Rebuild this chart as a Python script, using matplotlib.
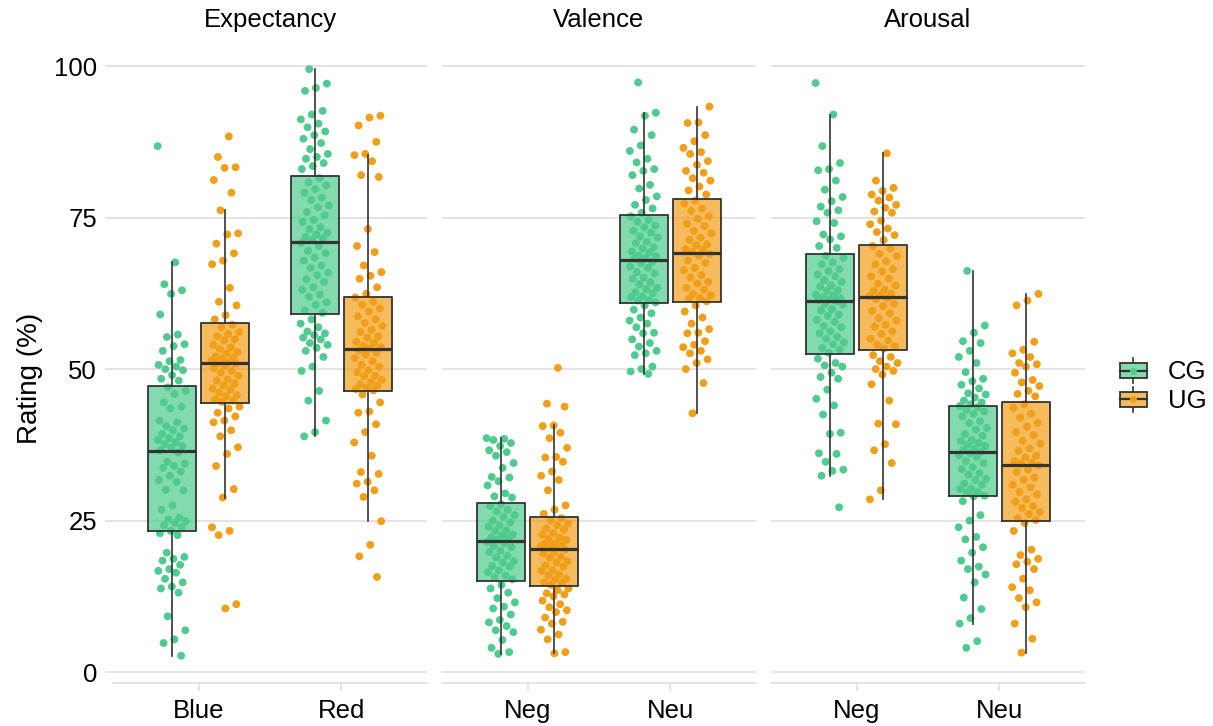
import numpy as np
import matplotlib
matplotlib.use('Agg')
import matplotlib.pyplot as plt
from matplotlib.legend_handler import HandlerBase
from matplotlib.patches import Rectangle
from matplotlib.lines import Line2D

plt.rcParams['font.family'] = ['Liberation Sans', 'DejaVu Sans']

# ---- data (rating %) ----
panels = ['Expectancy', 'Valence', 'Arousal']
conditions = [['Blue', 'Red'], ['Neg', 'Neu'], ['Neg', 'Neu']]
groups = ['CG', 'UG']

exp_blue_cg = [86.8, 67.6, 64.0, 63.0, 62.4, 59.0, 55.7, 55.3, 54.1, 53.8, 53.0, 51.5, 51.3, 50.7,
               50.4, 50.0, 49.8, 49.0, 48.4, 48.1, 47.0, 46.4, 45.9, 44.5, 43.8, 43.5, 41.5,
               41.2, 40.6, 40.2, 39.9, 39.3, 38.9, 38.6, 38.3, 37.9, 37.6, 37.3, 37.0, 36.6, 36.2,
               34.7, 34.4, 34.0, 33.7, 33.1, 32.4, 31.7, 31.4, 30.1, 30.0, 27.5, 26.8, 25.5, 25.2,
               24.9, 24.6, 24.2, 23.9, 23.3, 22.9, 22.6, 19.7, 19.0, 18.7, 18.4, 17.7, 17.0, 16.7,
               16.4, 15.4, 14.8, 14.1, 13.8, 13.1, 9.2, 6.9, 5.4, 4.8, 2.7]
exp_blue_ug = [88.4, 85.0, 83.3, 83.2, 81.2, 79.1, 76.2, 72.4, 72.2, 70.7, 69.1, 67.9, 67.3, 63.4,
               61.1, 60.5, 58.9, 58.2, 57.3, 56.9, 56.1, 55.8, 55.4, 54.9, 54.7, 54.0, 53.6, 53.3,
               52.8, 52.6, 52.1, 51.9, 51.7, 51.4, 51.2, 51.1, 50.9, 50.5, 50.2, 49.7, 49.4, 48.9,
               48.3, 48.1, 47.6, 47.3, 46.8, 46.6, 46.1, 45.7, 45.5, 45.0, 44.8, 44.6, 43.8, 43.5,
               42.8, 42.2, 41.5, 41.2, 39.9, 38.9, 37.1, 36.0, 34.0, 30.2, 28.8, 23.9, 23.3, 22.6,
               11.2, 10.5]
exp_red_cg = [99.5, 97.1, 96.4, 95.9, 92.6, 92.0, 91.2, 90.5, 89.9, 89.2, 88.6, 88.0, 87.3, 86.3,
              85.5, 85.0, 84.7, 84.0, 83.5, 83.0, 81.5, 80.8, 80.3, 79.7, 79.1, 78.3, 77.9, 77.0,
              76.7, 75.9, 75.4, 74.6, 74.3, 73.4, 73.1, 72.5, 72.2, 71.8, 71.6, 71.3, 70.8, 70.3,
              69.5, 69.1, 68.4, 67.9, 67.1, 66.7, 65.9, 65.5, 64.8, 64.4, 63.5, 63.1, 62.3, 61.9,
              61.0, 60.6, 59.7, 59.3, 58.2, 57.5, 56.9, 56.2, 55.9, 55.6, 55.2, 54.9, 54.3, 54.0,
              53.5, 53.0, 52.0, 50.4, 49.7, 46.4, 44.8, 41.5, 39.6, 38.9]
exp_red_ug = [91.8, 91.5, 90.2, 87.5, 85.5, 85.3, 84.3, 82.0, 81.7, 73.1, 70.3, 69.3, 67.1, 66.0,
              65.4, 64.9, 63.5, 62.4, 61.8, 61.1, 60.6, 60.0, 59.5, 58.7, 58.2, 57.6, 57.1, 56.5,
              56.1, 55.4, 55.2, 54.5, 54.3, 53.8, 53.6, 53.4, 53.1, 52.7, 52.4, 51.8, 51.3, 50.7,
              50.4, 49.8, 49.5, 48.9, 48.8, 48.2, 47.9, 47.5, 47.3, 46.9, 46.7, 46.5, 45.8, 44.5,
              43.0, 42.8, 40.9, 39.6, 37.9, 35.7, 33.0, 32.7, 31.4, 31.1, 30.0, 28.9, 24.9, 21.0,
              19.1, 15.7]

val_neg_cg = [38.6, 38.5, 38.3, 37.8, 37.3, 36.6, 36.3, 35.7, 34.5, 33.7, 32.2, 32.1, 31.5, 30.8,
              29.5, 29.0, 28.8, 27.7, 27.4, 26.8, 26.5, 25.9, 25.6, 25.0, 24.7, 24.2, 24.0, 23.4,
              23.3, 22.7, 22.6, 22.2, 22.1, 21.9, 21.5, 21.3, 20.8, 20.6, 20.0, 19.8, 19.2, 18.9,
              18.3, 18.1, 17.5, 17.4, 16.8, 16.5, 15.9, 15.7, 15.3, 14.4, 13.8, 13.1, 12.2, 11.5,
              10.8, 10.5, 9.5, 8.6, 8.2, 7.6, 6.9, 6.6, 5.3, 4.0, 3.3, 3.0]
val_neg_ug = [50.2, 44.3, 43.8, 40.7, 40.6, 39.5, 38.6, 37.0, 35.5, 35.4, 34.7, 33.1, 32.4, 31.7,
              30.0, 27.5, 26.8, 26.1, 25.4, 25.1, 24.5, 24.2, 23.7, 23.5, 22.9, 22.7, 22.2, 22.0,
              21.8, 21.3, 21.2, 20.9, 20.8, 20.7, 20.6, 20.5, 20.2, 19.8, 19.6, 19.0, 18.9, 18.3,
              18.1, 17.6, 17.4, 16.8, 16.7, 16.1, 16.0, 15.4, 15.3, 14.8, 14.7, 14.4, 13.8, 13.5,
              13.0, 12.8, 12.5, 11.8, 11.2, 10.7, 10.2, 9.9, 9.0, 8.3, 8.0, 7.0, 6.2, 5.4, 3.3, 3.1]
val_neu_cg = [97.3, 92.3, 91.8, 89.5, 88.6, 86.9, 86.0, 84.7, 84.1, 83.0, 82.7, 82.0, 80.4, 79.8,
              78.5, 77.9, 77.1, 76.5, 75.8, 75.2, 74.6, 74.3, 73.7, 73.4, 72.8, 72.5, 71.9, 71.7,
              71.0, 70.8, 70.1, 69.9, 69.4, 69.2, 68.7, 68.6, 68.3, 68.2, 67.7, 67.5, 66.9, 66.7,
              66.0, 65.8, 65.1, 64.9, 64.3, 64.0, 63.4, 63.2, 62.7, 62.5, 62.0, 61.9, 61.4, 61.3,
              61.0, 60.5, 59.8, 59.2, 58.5, 58.0, 57.5, 56.9, 56.0, 55.9, 54.9, 54.3, 53.7, 53.0,
              52.6, 52.3, 50.4, 50.0, 49.6, 49.2]
val_neu_ug = [93.3, 90.7, 90.6, 88.6, 87.6, 86.5, 85.8, 85.5, 84.3, 83.7, 82.7, 82.4, 81.5, 81.1,
              80.1, 79.5, 78.8, 77.8, 77.3, 76.5, 76.1, 75.2, 74.8, 74.0, 73.6, 72.8, 72.4, 71.7,
              71.3, 70.6, 70.4, 69.8, 69.7, 69.4, 69.0, 68.7, 67.9, 67.5, 66.7, 66.3, 65.5, 65.1,
              64.4, 64.1, 63.4, 63.1, 62.4, 62.2, 61.7, 61.6, 61.2, 60.5, 59.5, 58.5, 57.5, 56.6,
              56.0, 55.9, 54.6, 54.0, 53.6, 53.0, 52.6, 51.6, 51.0, 50.0, 47.7, 42.7]

aro_neg_cg = [97.2, 92.0, 86.8, 84.0, 83.0, 82.8, 81.1, 79.6, 78.4, 77.7, 76.8, 76.2, 75.8, 74.4,
              74.1, 72.2, 71.9, 71.4, 70.3, 70.0, 68.7, 68.4, 67.6, 67.3, 66.5, 66.2, 65.6, 65.3,
              64.7, 64.4, 63.8, 63.6, 63.0, 62.9, 62.3, 62.2, 61.8, 61.7, 61.5, 61.4, 61.2, 60.8,
              60.6, 59.9, 59.7, 59.0, 58.8, 58.1, 57.8, 57.1, 56.9, 56.2, 55.9, 55.3, 55.0, 54.4,
              54.1, 53.5, 53.2, 52.7, 51.7, 51.0, 50.6, 50.4, 49.4, 48.7, 48.4, 46.6, 45.1, 44.0,
              42.5, 39.5, 39.3, 36.1, 36.0, 34.7, 33.4, 33.2, 32.4, 27.2]
aro_neg_ug = [85.6, 81.1, 79.9, 79.4, 78.8, 78.3, 77.8, 77.1, 76.6, 76.0, 75.8, 74.5, 73.9, 73.2,
              72.6, 72.1, 71.3, 70.3, 69.9, 69.0, 68.6, 67.8, 67.3, 66.5, 66.1, 65.3, 64.9, 64.1,
              63.8, 63.1, 62.9, 62.4, 62.2, 62.0, 61.7, 61.5, 60.8, 60.4, 59.6, 59.2, 58.4, 58.0,
              57.3, 57.0, 56.2, 55.8, 55.0, 54.7, 54.0, 53.8, 53.4, 52.3, 52.0, 51.3, 51.0, 50.4,
              50.0, 49.7, 49.1, 47.5, 44.8, 41.0, 40.9, 37.6, 36.6, 34.5, 30.0, 28.5]
aro_neu_cg = [66.2, 57.2, 56.0, 54.6, 54.3, 53.0, 52.0, 51.0, 49.5, 48.4, 48.0, 47.4, 46.8, 46.0,
              45.8, 45.3, 44.8, 44.5, 44.2, 43.9, 43.7, 43.3, 43.0, 42.6, 42.2, 41.4, 41.1, 40.3,
              40.0, 39.3, 39.0, 38.3, 38.1, 37.8, 37.5, 37.3, 36.8, 36.6, 36.3, 36.1, 35.7, 35.5,
              34.8, 34.5, 33.8, 33.5, 32.8, 32.6, 31.9, 31.7, 31.1, 30.9, 30.3, 30.2, 29.7, 29.6,
              29.1, 29.0, 28.2, 25.9, 25.0, 23.9, 22.3, 21.9, 20.6, 19.7, 18.4, 17.4, 17.0, 16.1,
              14.8, 12.3, 10.4, 8.9, 8.0, 5.1, 4.0]
aro_neu_ug = [62.4, 61.3, 60.5, 54.5, 53.2, 52.6, 52.0, 51.0, 50.8, 50.4, 49.4, 48.2, 47.8, 47.2,
              46.4, 45.9, 45.5, 44.2, 43.6, 42.6, 42.0, 41.1, 40.5, 39.6, 39.1, 38.2, 37.7, 36.9,
              36.5, 35.7, 35.4, 34.8, 34.6, 34.4, 34.1, 33.4, 33.0, 32.1, 31.7, 30.9, 30.5, 29.7,
              29.3, 28.5, 28.1, 27.4, 27.1, 26.4, 26.1, 25.4, 25.1, 24.6, 23.3, 20.2, 19.3, 18.7,
              18.2, 17.8, 17.0, 15.4, 14.0, 13.5, 12.2, 11.5, 10.7, 8.0, 5.5, 3.2]

data = [
    [[exp_blue_cg, exp_blue_ug], [exp_red_cg, exp_red_ug]],
    [[val_neg_cg, val_neg_ug], [val_neu_cg, val_neu_ug]],
    [[aro_neg_cg, aro_neg_ug], [aro_neu_cg, aro_neu_ug]],
]

colors = ['#4ECB8D', '#F19E18']
edge = '#333333'
grid_col = '#DCDCDC'
FS = 18.5

W, H = 1213, 726
fig = plt.figure(figsize=(W / 100, H / 100), dpi=100)


def rect(l, t, w, h):
    return [l / W, 1 - (t + h) / H, w / W, h / H]


panel_left = [113, 442, 771]
panel_w = 314
top, bottom = 40, 683

dodge = 0.1875
box_w = 0.3375

for p in range(3):
    ax = fig.add_axes(rect(panel_left[p], top, panel_w, bottom - top))
    for ci in range(2):
        for gi in range(2):
            vals = np.array(data[p][ci][gi])
            pos = ci + 1 + (-dodge if gi == 0 else dodge)
            n = len(vals)
            # deterministic jitter spread
            jit = ((np.arange(n) * 0.618034 + 0.31 * (ci + 2 * gi)) % 1 - 0.5) * 0.2
            bp = ax.boxplot(vals, positions=[pos], widths=box_w, patch_artist=True,
                            showfliers=False, showcaps=False, manage_ticks=False,
                            boxprops=dict(facecolor=colors[gi], alpha=0.7, linewidth=0),
                            whiskerprops=dict(color=edge, linewidth=1.2),
                            medianprops=dict(color=edge, linewidth=2.3))
            for b in bp['boxes']:
                b.set_zorder(2)
                path = b.get_path().vertices
                ax.plot(path[:, 0], path[:, 1], color=edge, lw=1.3, zorder=4)
            for w_ in bp['whiskers']:
                w_.set_zorder(4)
            for m in bp['medians']:
                m.set_zorder(5)
            ax.scatter(pos + jit, vals, s=32, color=colors[gi], edgecolors='none', zorder=3)

    ax.set_xlim(0.4, 2.6)
    ax.set_ylim(-1.8, 104.3)
    ax.set_yticks([0, 25, 50, 75, 100])
    ax.set_xticks([1, 2])
    ax.set_xticklabels(conditions[p], fontsize=FS)
    ax.yaxis.grid(True, color=grid_col, linewidth=1.1)
    ax.set_axisbelow(True)
    for s in ['top', 'right', 'left']:
        ax.spines[s].set_visible(False)
    ax.spines['bottom'].set_color(grid_col)
    ax.spines['bottom'].set_linewidth(1.1)
    ax.tick_params(axis='x', colors=grid_col, length=6, width=1.1, pad=5.5,
                   labelcolor='black', labelsize=FS)
    if p == 0:
        ax.set_yticklabels(['0', '25', '50', '75', '100'])
        ax.tick_params(axis='y', colors=grid_col, length=6, width=1.1, pad=5.5,
                       labelcolor='black', labelsize=FS)
    else:
        ax.tick_params(axis='y', length=0, labelleft=False)
    fig.text((panel_left[p] + panel_w / 2) / W, 1 - 20 / H, panels[p],
             ha='center', va='center', fontsize=FS)

fig.text(30 / W, 1 - 378 / H, 'Rating (%)', rotation=90, ha='center', va='center',
         fontsize=FS + 1.5)


class BoxKey(HandlerBase):
    def create_artists(self, legend, orig, xd, yd, width, height, fontsize, trans):
        col = orig.get_facecolor()
        cx = -xd + width / 2
        cy = -yd + height / 2
        bh = height * 0.5
        arts = [
            Line2D([cx, cx], [-yd + height * 0.08, -yd + height * 0.92], color=edge, lw=1.2),
            Rectangle((-xd, cy - bh / 2), width, bh, facecolor='white', edgecolor='none'),
            Rectangle((-xd, cy - bh / 2), width, bh, facecolor=col, edgecolor=edge, lw=1.3),
            Line2D([-xd, -xd + width], [cy, cy], color=edge, lw=1.6),
            Line2D([cx], [cy], marker='o', ms=5, color=orig.get_edgecolor(), mec='none'),
        ]
        for a in arts:
            a.set_transform(trans)
        return arts


handles = []
for c in colors:
    r = Rectangle((0, 0), 1, 1, facecolor=matplotlib.colors.to_rgba(c, 0.7), edgecolor=c)
    handles.append(r)
fig.legend(handles, groups, handler_map={Rectangle: BoxKey()}, loc='center left',
           bbox_to_anchor=(1120 / W, 1 - 385 / H), frameon=False, fontsize=FS,
           handlelength=1.05, handleheight=1.35, labelspacing=0.0, handletextpad=0.8,
           borderpad=0, borderaxespad=0)

fig.savefig('out.png', dpi=100)
